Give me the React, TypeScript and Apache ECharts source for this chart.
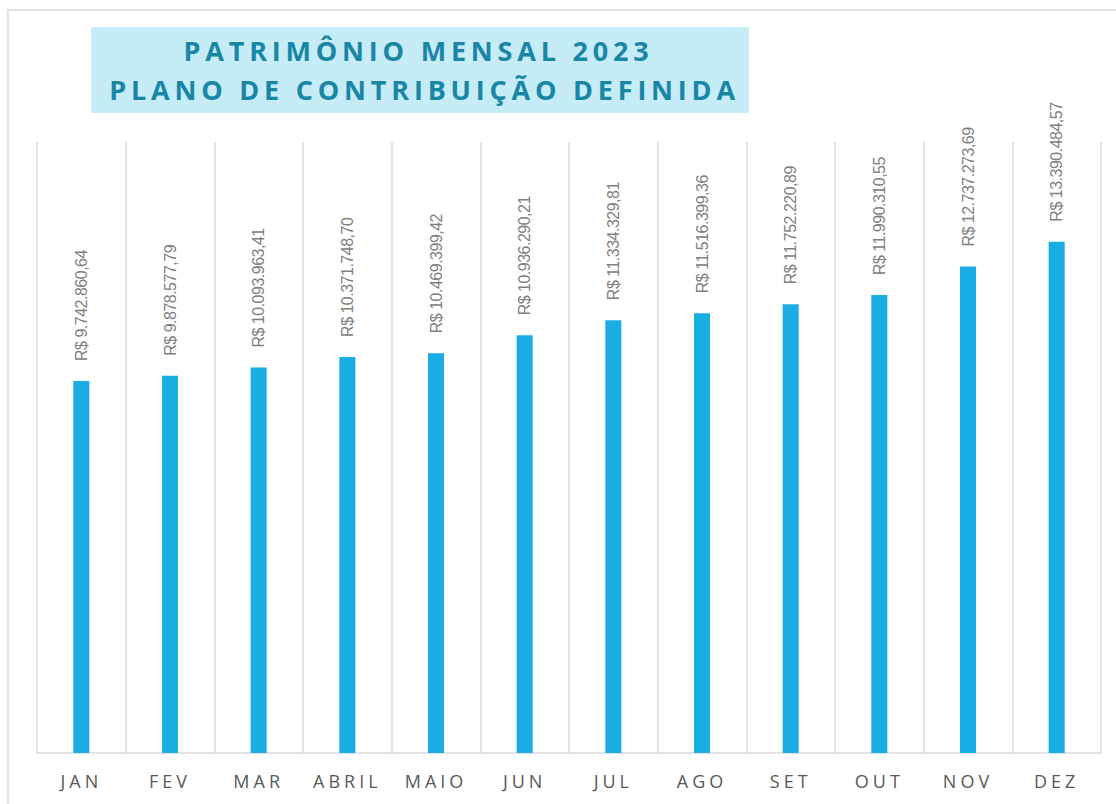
import React, { useEffect, useRef } from "react";
import * as echarts from "echarts";

const categories = ["JAN", "FEV", "MAR", "ABRIL", "MAIO", "JUN", "JUL", "AGO", "SET", "OUT", "NOV", "DEZ"];
const patrimonio = [
  9742860.64, 9878577.79, 10093963.41, 10371748.7, 10469399.42, 10936290.21,
  11334329.81, 11516399.36, 11752220.89, 11990310.55, 12737273.69, 13390484.57,
];
const titleLines = ["PATRIMÔNIO MENSAL 2023", "PLANO DE CONTRIBUIÇÃO DEFINIDA"];

function formatBRL(v: number): string {
  const fixed = v.toFixed(2);
  const [intPart, dec] = fixed.split(".");
  const withDots = intPart.replace(/\B(?=(\d{3})+(?!\d))/g, ".");
  return "R$ " + withDots + "," + dec;
}

export default function App() {
  const ref = useRef<HTMLDivElement>(null);
  useEffect(() => {
    document.body.style.margin = "0";
    if (!ref.current) return;
    const chart = echarts.init(ref.current, null, { renderer: "svg" });
    const labelTexts = patrimonio.map(formatBRL);
    const option: any = {
      animation: false,
      backgroundColor: "#ffffff",
      grid: { left: 37, right: 15, top: 142, bottom: 51, containLabel: false },
      xAxis: {
        type: "category",
        data: categories,
        boundaryGap: true,
        axisLine: { show: true, lineStyle: { color: "#d9d9d9", width: 1.5 } },
        axisTick: { show: false },
        splitLine: { show: true, interval: 0, lineStyle: { color: "#d9d9d9", width: 1.5 } },
        axisLabel: {
          interval: 0,
          margin: 19,
          color: "#595959",
          fontSize: 18,
          fontFamily: "Open Sans",
        },
      },
      yAxis: {
        type: "value",
        min: 0,
        max: 16000000,
        show: false,
        splitLine: { show: false },
      },
      graphic: [
        {
          type: "rect",
          shape: { x: 8, y: 10, width: 1130, height: 830 },
          style: { fill: "none", stroke: "#d9d9d9", lineWidth: 1.5 },
          silent: true,
        },
        {
          type: "rect",
          shape: { x: 91, y: 27, width: 658, height: 86 },
          style: { fill: "#c5ecf7" },
          silent: true,
        },
        {
          type: "text",
          x: 418.5,
          y: 50,
          style: {
            text: titleLines[0],
            fill: "#1a86a6",
            font: "bold 27px 'Open Sans'",
            textAlign: "center",
            textVerticalAlign: "middle",
          },
        },
        {
          type: "text",
          x: 424.5,
          y: 89,
          style: {
            text: titleLines[1],
            fill: "#1a86a6",
            font: "bold 27px 'Open Sans'",
            textAlign: "center",
            textVerticalAlign: "middle",
          },
        },
      ],
      series: [
        {
          type: "bar",
          data: patrimonio,
          barWidth: 16,
          itemStyle: { color: "#1aade4" },
          label: {
            show: true,
            position: "top",
            rotate: 90,
            align: "left",
            verticalAlign: "middle",
            distance: 20,
            color: "#808080",
            fontSize: 16,
            fontFamily: "Liberation Sans",
            formatter: (p: any) => formatBRL(p.value),
          },
        },
      ],
    };
    chart.setOption(option);

    const applySpacing = () => {
      if (!ref.current) return;
      const texts = ref.current.querySelectorAll("text");
      texts.forEach((t) => {
        const c = t.textContent || "";
        if (categories.indexOf(c) >= 0) {
          (t as any).style.letterSpacing = "4px";
        } else if (titleLines.indexOf(c) >= 0) {
          (t as any).style.letterSpacing = "4.8px";
        } else if (labelTexts.indexOf(c) >= 0) {
          (t as any).style.letterSpacing = "-0.5px";
        }
      });
    };
    applySpacing();
    chart.on("finished", applySpacing);
    const t1 = setTimeout(applySpacing, 0);
    const t2 = setTimeout(applySpacing, 100);
    return () => {
      clearTimeout(t1);
      clearTimeout(t2);
      chart.dispose();
    };
  }, []);
  return <div ref={ref} style={{ width: 1116, height: 804 }} />;
}
